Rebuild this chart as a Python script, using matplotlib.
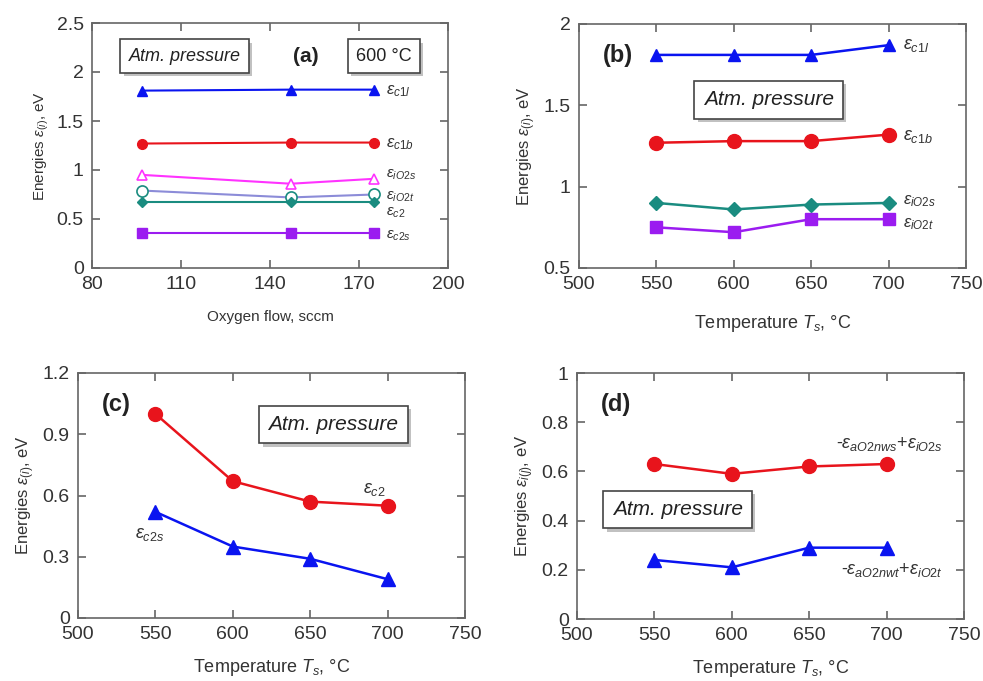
import matplotlib
matplotlib.use("Agg")
import matplotlib.pyplot as plt
import matplotlib.patheffects as pe

# ──────────────────────────────────────────────────────────────────────────────
# DATA
# ──────────────────────────────────────────────────────────────────────────────

flow = [97, 147, 175]
a_c1l = [1.81, 1.82, 1.82]
a_c1b = [1.27, 1.28, 1.28]
a_iO2s = [0.95, 0.86, 0.91]
a_iO2t = [0.79, 0.72, 0.75]
a_c2 = [0.67, 0.67, 0.67]
a_c2s = [0.36, 0.36, 0.36]

temp = [550, 600, 650, 700]
b_c1l = [1.81, 1.81, 1.81, 1.87]
b_c1b = [1.27, 1.28, 1.28, 1.32]
b_iO2s = [0.90, 0.86, 0.89, 0.90]
b_iO2t = [0.75, 0.72, 0.80, 0.80]

c_c2 = [1.00, 0.67, 0.57, 0.55]
c_c2s = [0.52, 0.35, 0.29, 0.19]

d_s = [0.63, 0.59, 0.62, 0.63]
d_t = [0.24, 0.21, 0.29, 0.29]

BLUE = '#0a14f0'
RED = '#e8141c'
MAGENTA = '#ff33ff'
SLATE = '#8c8cd8'
TEAL = '#1a8c80'
PURPLE = '#9b1cf0'

plt.rcParams['font.family'] = ['Liberation Sans', 'DejaVu Sans']
plt.rcParams['mathtext.fontset'] = 'custom'
plt.rcParams['mathtext.it'] = 'Liberation Sans:italic'
plt.rcParams['mathtext.rm'] = 'Liberation Sans'

fig = plt.figure(figsize=(9.83, 6.81), dpi=100)
W, H = 983, 681


def make_ax(l, r, t, b):
    return fig.add_axes([l / W, 1 - b / H, (r - l) / W, (b - t) / H])


def style(ax):
    for s in ax.spines.values():
        s.set_color('#666666')
        s.set_linewidth(1.2)
    ax.tick_params(direction='in', top=True, right=True, length=6,
                   width=1.2, color='#666666', labelsize=14,
                   labelcolor='#333333', pad=6)


def box(ax, x, y, txt, style_='italic', size=13):
    t = ax.text(x, y, txt, transform=ax.transAxes, fontsize=size,
                style=style_, ha='center', va='center', color='#222222',
                bbox=dict(boxstyle='square,pad=0.45', fc='white',
                          ec='#444444', lw=1.2))
    t.get_bbox_patch().set_path_effects(
        [pe.SimplePatchShadow(offset=(2.5, -2.5), shadow_rgbFace='#999999',
                              alpha=0.6), pe.Normal()])


def lab(ax, x, y, txt, size=11):
    ax.text(x, y, txt, fontsize=size, color='#333333', ha='left', va='center')


ylab = r'Energies $\varepsilon_{(i)}$, eV'
xlab_t = r'Temperature $T_s$, °C'

# ── (a)
ax = make_ax(92, 448, 23, 268)
ax.plot(flow, a_c1l, '-^', color=BLUE, ms=7, lw=1.5)
ax.plot(flow, a_c1b, '-o', color=RED, ms=7, lw=1.5)
ax.plot(flow, a_iO2s, '-^', color=MAGENTA, ms=7, lw=1.5, mfc='white', mew=1.2)
ax.plot(flow, a_iO2t, '-', color=SLATE, lw=1.5)
ax.plot(flow, a_iO2t, 'o', color=TEAL, ms=8, mfc='white', mew=1.2)
ax.plot(flow, a_c2, '-D', color=TEAL, ms=5, lw=1.5)
ax.plot(flow, a_c2s, '-s', color=PURPLE, ms=7, lw=1.5)
ax.set_xlim(80, 200)
ax.set_ylim(0, 2.5)
ax.set_xticks([80, 110, 140, 170, 200])
ax.set_yticks([0, 0.5, 1, 1.5, 2, 2.5])
ax.set_yticklabels(['0', '0.5', '1', '1.5', '2', '2.5'])
style(ax)
ax.set_xlabel('Oxygen flow, sccm', fontsize=11, color='#333333', labelpad=12)
ax.set_ylabel(ylab, fontsize=11, color='#333333', labelpad=4)
lab(ax, 179, 1.80, r'$\varepsilon_{c1l}$', 12)
lab(ax, 179, 1.26, r'$\varepsilon_{c1b}$', 12)
lab(ax, 179, 0.95, r'$\varepsilon_{iO2s}$', 11)
lab(ax, 179, 0.73, r'$\varepsilon_{iO2t}$', 11)
lab(ax, 179, 0.56, r'$\varepsilon_{c2}$', 11)
lab(ax, 179, 0.33, r'$\varepsilon_{c2s}$', 11)
box(ax, 0.26, 0.865, 'Atm. pressure')
box(ax, 0.82, 0.865, '600 °C', style_='normal')
ax.text(0.6, 0.865, '(a)', transform=ax.transAxes, fontsize=15,
        fontweight='bold', ha='center', va='center', color='#222222')

# ── (b)
ax = make_ax(579, 966, 24, 268)
ax.plot(temp, b_c1l, '-^', color=BLUE, ms=9, lw=1.8)
ax.plot(temp, b_c1b, '-o', color=RED, ms=10, lw=1.8)
ax.plot(temp, b_iO2s, '-D', color=TEAL, ms=7, lw=1.8)
ax.plot(temp, b_iO2t, '-s', color=PURPLE, ms=8, lw=1.8)
ax.set_xlim(500, 750)
ax.set_ylim(0.5, 2)
ax.set_xticks([500, 550, 600, 650, 700, 750])
ax.set_yticks([0.5, 1, 1.5, 2])
ax.set_yticklabels(['0.5', '1', '1.5', '2'])
style(ax)
ax.set_xlabel(xlab_t, fontsize=13, color='#333333', labelpad=14)
ax.set_ylabel(ylab, fontsize=12, color='#333333', labelpad=4)
lab(ax, 709, 1.87, r'$\varepsilon_{c1l}$', 13)
lab(ax, 709, 1.31, r'$\varepsilon_{c1b}$', 13)
lab(ax, 709, 0.91, r'$\varepsilon_{iO2s}$', 12)
lab(ax, 709, 0.77, r'$\varepsilon_{iO2t}$', 12)
box(ax, 0.49, 0.69, 'Atm. pressure', size=15)
ax.text(0.1, 0.87, '(b)', transform=ax.transAxes, fontsize=17,
        fontweight='bold', ha='center', va='center', color='#222222')

# ── (c)
ax = make_ax(78, 465, 373, 618)
ax.plot(temp, c_c2, '-o', color=RED, ms=10, lw=1.8)
ax.plot(temp, c_c2s, '-^', color=BLUE, ms=10, lw=1.8)
ax.set_xlim(500, 750)
ax.set_ylim(0, 1.2)
ax.set_xticks([500, 550, 600, 650, 700, 750])
ax.set_yticks([0, 0.3, 0.6, 0.9, 1.2])
ax.set_yticklabels(['0', '0.3', '0.6', '0.9', '1.2'])
style(ax)
ax.set_xlabel(xlab_t, fontsize=13, color='#333333', labelpad=10)
ax.set_ylabel(ylab, fontsize=12, color='#333333', labelpad=4)
lab(ax, 684, 0.63, r'$\varepsilon_{c2}$', 13)
lab(ax, 537, 0.41, r'$\varepsilon_{c2s}$', 13)
box(ax, 0.66, 0.79, 'Atm. pressure', size=15)
ax.text(0.1, 0.87, '(c)', transform=ax.transAxes, fontsize=17,
        fontweight='bold', ha='center', va='center', color='#222222')

# ── (d)
ax = make_ax(577, 964, 373, 619)
ax.plot(temp, d_s, '-o', color=RED, ms=10, lw=1.8)
ax.plot(temp, d_t, '-^', color=BLUE, ms=10, lw=1.8)
ax.set_xlim(500, 750)
ax.set_ylim(0, 1)
ax.set_xticks([500, 550, 600, 650, 700, 750])
ax.set_yticks([0, 0.2, 0.4, 0.6, 0.8, 1])
ax.set_yticklabels(['0', '0.2', '0.4', '0.6', '0.8', '1'])
style(ax)
ax.set_xlabel(xlab_t, fontsize=13, color='#333333', labelpad=10)
ax.set_ylabel(r'Energies $\varepsilon_{i(j)}$, eV', fontsize=12,
              color='#333333', labelpad=4)
ax.text(736, 0.71, r'-$\varepsilon_{aO2nws}$+$\varepsilon_{iO2s}$', fontsize=13,
        color='#333333', ha='right', va='center')
ax.text(736, 0.20, r'-$\varepsilon_{aO2nwt}$+$\varepsilon_{iO2t}$', fontsize=13,
        color='#333333', ha='right', va='center')
box(ax, 0.26, 0.445, 'Atm. pressure', size=15)
ax.text(0.1, 0.87, '(d)', transform=ax.transAxes, fontsize=17,
        fontweight='bold', ha='center', va='center', color='#222222')

fig.savefig('out.png', dpi=100)
